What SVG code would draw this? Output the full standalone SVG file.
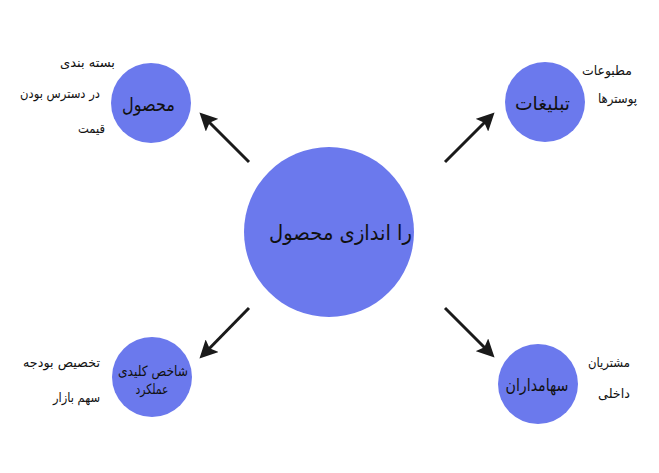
<svg xmlns="http://www.w3.org/2000/svg" width="659" height="473" viewBox="0 0 659 473">
<style>
.n{fill:#6b79ed}
.t{font-family:"DejaVu Sans","Noto Sans",sans-serif;fill:#111;text-anchor:middle;dominant-baseline:central}
.l{font-size:13px}
.c{stroke:#1a1a1a;stroke-width:3;fill:none;marker-end:url(#ah)}
</style>
<defs>
<marker id="ah" viewBox="0 0 10 10" refX="8" refY="5" markerWidth="6" markerHeight="6" markerUnits="strokeWidth" orient="auto">
<path d="M0,0 L10,5 L0,10 L2,5 Z" fill="#1a1a1a"/>
</marker>
</defs>
<rect width="659" height="473" fill="#fff"/>
<g id="connectors">
<line class="c" x1="249" y1="162" x2="202" y2="115"/>
<line class="c" x1="445" y1="162" x2="492" y2="115"/>
<line class="c" x1="249" y1="308" x2="202" y2="356"/>
<line class="c" x1="445" y1="308" x2="492" y2="355"/>
</g>
<g id="center">
<circle class="n" cx="329" cy="232" r="85"/>
<text class="t" x="340.5" y="233" font-size="21" textLength="143" lengthAdjust="spacingAndGlyphs">را اندازی محصول</text>
</g>
<g id="product">
<circle class="n" cx="151" cy="103" r="40"/>
<text class="t" x="148.5" y="104" font-size="19" textLength="53" lengthAdjust="spacingAndGlyphs">محصول</text>
<text class="t l" x="87.5" y="62" textLength="55" lengthAdjust="spacingAndGlyphs">بسته بندی</text>
<text class="t l" x="60" y="93" textLength="80" lengthAdjust="spacingAndGlyphs">در دسترس بودن</text>
<text class="t l" x="91.5" y="128" textLength="27" lengthAdjust="spacingAndGlyphs">قیمت</text>
</g>
<g id="ads">
<circle class="n" cx="545" cy="102" r="40"/>
<text class="t" x="542.5" y="103" font-size="19" textLength="55" lengthAdjust="spacingAndGlyphs">تبليغات</text>
<text class="t l" x="607" y="70" textLength="50" lengthAdjust="spacingAndGlyphs">مطبوعات</text>
<text class="t l" x="617.5" y="98" textLength="39" lengthAdjust="spacingAndGlyphs">پوسترها</text>
</g>
<g id="kpi">
<circle class="n" cx="152" cy="377" r="40"/>
<text class="t" x="153" y="371" font-size="14" textLength="70" lengthAdjust="spacingAndGlyphs">شاخص کلیدی</text>
<text class="t" x="152" y="389" font-size="14" textLength="33" lengthAdjust="spacingAndGlyphs">عملکرد</text>
<text class="t l" x="61.5" y="362" textLength="77" lengthAdjust="spacingAndGlyphs">تخصیص بودجه</text>
<text class="t l" x="76.5" y="397" textLength="47" lengthAdjust="spacingAndGlyphs">سهم بازار</text>
</g>
<g id="stakeholders">
<circle class="n" cx="538" cy="384" r="40"/>
<text class="t" x="537" y="385" font-size="17" textLength="63" lengthAdjust="spacingAndGlyphs">سهامداران</text>
<text class="t l" x="609" y="362" textLength="42" lengthAdjust="spacingAndGlyphs">مشتریان</text>
<text class="t l" x="614" y="393" textLength="32" lengthAdjust="spacingAndGlyphs">داخلی</text>
</g>
</svg>
